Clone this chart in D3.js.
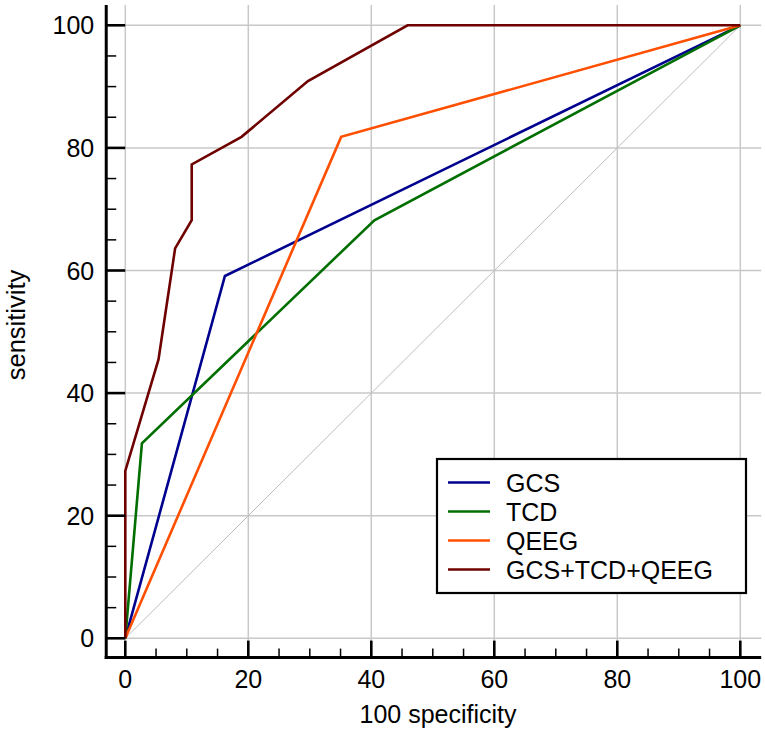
<!DOCTYPE html>
<html>
<head>
<meta charset="utf-8">
<script src="https://cdn.jsdelivr.net/npm/d3@7"></script>
<style>
  body { margin: 0; background: #fff; }
  text { font-family: Arial, "Liberation Sans", sans-serif; fill: #000; }
</style>
</head>
<body>
<div id="chart"></div>
<script>

///////////////////////////////////////////////////////////////////////////
//////////////////////////////// Data /////////////////////////////////////
///////////////////////////////////////////////////////////////////////////

var seriesNames = ["GCS", "TCD", "QEEG", "GCS+TCD+QEEG"];
var seriesColors = ["#00008f", "#006f00", "#ff4f00", "#6e0000"];

//100 - specificity (x) and sensitivity (y) for each ROC curve
var gcsX = [0, 16.2, 100];
var gcsY = [0, 59.1, 100];
var tcdX = [0, 2.7, 40.5, 100];
var tcdY = [0, 31.8, 68.2, 100];
var qeegX = [0, 35.1, 100];
var qeegY = [0, 81.8, 100];
var combX = [0, 0, 5.4, 8.1, 10.8, 10.8, 18.9, 29.7, 45.9, 100];
var combY = [0, 27.3, 45.5, 63.6, 68.2, 77.3, 81.8, 90.9, 100, 100];

var majorTicks = [0, 20, 40, 60, 80, 100];
var minorTicks = d3.range(0, 101, 5).filter(function(d) { return d % 20 !== 0; });

var xTitle = "100 specificity";
var yTitle = "sensitivity";

///////////////////////////////////////////////////////////////////////////
//////////////////////////////// Setup ////////////////////////////////////
///////////////////////////////////////////////////////////////////////////

var width = 765, height = 734;

var svg = d3.select("#chart").append("svg")
  .attr("width", width)
  .attr("height", height);

var x = d3.scaleLinear().domain([0, 100]).range([125.3, 740.3]);
var y = d3.scaleLinear().domain([0, 100]).range([638.3, 25.3]);

//frame is a bit wider than the data domain
var xMin = x(-3.1), xMax = x(103.4);
var yMin = y(-3.15), yMax = y(103.3);

///////////////////////////////////////////////////////////////////////////
//////////////////////////////// Grid /////////////////////////////////////
///////////////////////////////////////////////////////////////////////////

svg.selectAll(".grid-v")
  .data(majorTicks)
  .enter().append("line")
  .attr("class", "grid-v")
  .attr("x1", function(d) { return x(d); })
  .attr("x2", function(d) { return x(d); })
  .attr("y1", yMax)
  .attr("y2", yMin)
  .style("stroke", "#c8c8c8")
  .style("stroke-width", 1.5);

svg.selectAll(".grid-h")
  .data(majorTicks)
  .enter().append("line")
  .attr("class", "grid-h")
  .attr("x1", xMin)
  .attr("x2", xMax)
  .attr("y1", function(d) { return y(d); })
  .attr("y2", function(d) { return y(d); })
  .style("stroke", "#c8c8c8")
  .style("stroke-width", 1.5);

//reference diagonal
svg.append("line")
  .attr("x1", x(0)).attr("y1", y(0))
  .attr("x2", x(100)).attr("y2", y(100))
  .style("stroke", "#bdbdbd")
  .style("stroke-width", 1);

///////////////////////////////////////////////////////////////////////////
//////////////////////////////// Curves ///////////////////////////////////
///////////////////////////////////////////////////////////////////////////

var curves = [
  {name: seriesNames[0], color: seriesColors[0], xs: gcsX, ys: gcsY},
  {name: seriesNames[1], color: seriesColors[1], xs: tcdX, ys: tcdY},
  {name: seriesNames[2], color: seriesColors[2], xs: qeegX, ys: qeegY},
  {name: seriesNames[3], color: seriesColors[3], xs: combX, ys: combY}
];

var line = d3.line()
  .x(function(d) { return x(d[0]); })
  .y(function(d) { return y(d[1]); });

svg.selectAll(".roc")
  .data(curves)
  .enter().append("path")
  .attr("class", "roc")
  .attr("d", function(d) { return line(d3.zip(d.xs, d.ys)); })
  .style("fill", "none")
  .style("stroke", function(d) { return d.color; })
  .style("stroke-width", 2.6)
  .style("stroke-linejoin", "miter");

///////////////////////////////////////////////////////////////////////////
//////////////////////////////// Axes /////////////////////////////////////
///////////////////////////////////////////////////////////////////////////

var axisColor = "#000";

//y axis
svg.append("line")
  .attr("x1", xMin).attr("x2", xMin)
  .attr("y1", yMax).attr("y2", yMin + 1.5)
  .style("stroke", axisColor).style("stroke-width", 3);

svg.selectAll(".ytick-major")
  .data(majorTicks)
  .enter().append("line")
  .attr("x1", xMin).attr("x2", xMin + 19)
  .attr("y1", function(d) { return y(d); })
  .attr("y2", function(d) { return y(d); })
  .style("stroke", axisColor).style("stroke-width", 2.6);

svg.selectAll(".ytick-minor")
  .data(minorTicks)
  .enter().append("line")
  .attr("x1", xMin).attr("x2", xMin + 10)
  .attr("y1", function(d) { return y(d); })
  .attr("y2", function(d) { return y(d); })
  .style("stroke", axisColor).style("stroke-width", 1.5);

svg.selectAll(".ytick-label")
  .data(majorTicks)
  .enter().append("text")
  .attr("x", xMin - 12)
  .attr("y", function(d) { return y(d); })
  .attr("dy", "0.36em")
  .style("text-anchor", "end")
  .style("font-size", "25px")
  .text(function(d) { return d; });

//x axis
svg.append("line")
  .attr("x1", xMin - 1.5).attr("x2", xMax)
  .attr("y1", yMin).attr("y2", yMin)
  .style("stroke", axisColor).style("stroke-width", 3);

svg.selectAll(".xtick-major")
  .data(majorTicks)
  .enter().append("line")
  .attr("x1", function(d) { return x(d); })
  .attr("x2", function(d) { return x(d); })
  .attr("y1", yMin).attr("y2", yMin - 17)
  .style("stroke", axisColor).style("stroke-width", 2.6);

svg.selectAll(".xtick-minor")
  .data(minorTicks)
  .enter().append("line")
  .attr("x1", function(d) { return x(d); })
  .attr("x2", function(d) { return x(d); })
  .attr("y1", yMin).attr("y2", yMin - 9)
  .style("stroke", axisColor).style("stroke-width", 1.5);

svg.selectAll(".xtick-label")
  .data(majorTicks)
  .enter().append("text")
  .attr("x", function(d) { return x(d); })
  .attr("y", 688)
  .style("text-anchor", "middle")
  .style("font-size", "25px")
  .text(function(d) { return d; });

//axis titles
svg.append("text")
  .attr("x", 438)
  .attr("y", 723)
  .style("text-anchor", "middle")
  .style("font-size", "25px")
  .text(xTitle);

svg.append("text")
  .attr("transform", "translate(" + 25 + "," + 325 + ") rotate(-90)")
  .style("text-anchor", "middle")
  .style("font-size", "25.5px")
  .text(yTitle);

///////////////////////////////////////////////////////////////////////////
/////////////////////////////// Legend ////////////////////////////////////
///////////////////////////////////////////////////////////////////////////

var legend = svg.append("g")
  .attr("transform", "translate(" + 437 + "," + 459 + ")");

legend.append("rect")
  .attr("width", 309)
  .attr("height", 134)
  .style("fill", "#fff")
  .style("stroke", "#000")
  .style("stroke-width", 2.2);

var legendRow = legend.selectAll(".legend-row")
  .data(curves)
  .enter().append("g")
  .attr("class", "legend-row")
  .attr("transform", function(d, i) { return "translate(0," + (23.5 + i * 29) + ")"; });

legendRow.append("line")
  .attr("x1", 11).attr("x2", 53)
  .style("stroke", function(d) { return d.color; })
  .style("stroke-width", 2.6);

legendRow.append("text")
  .attr("x", 69)
  .attr("dy", "0.36em")
  .style("font-size", "25px")
  .text(function(d) { return d.name; });

</script>
</body>
</html>
